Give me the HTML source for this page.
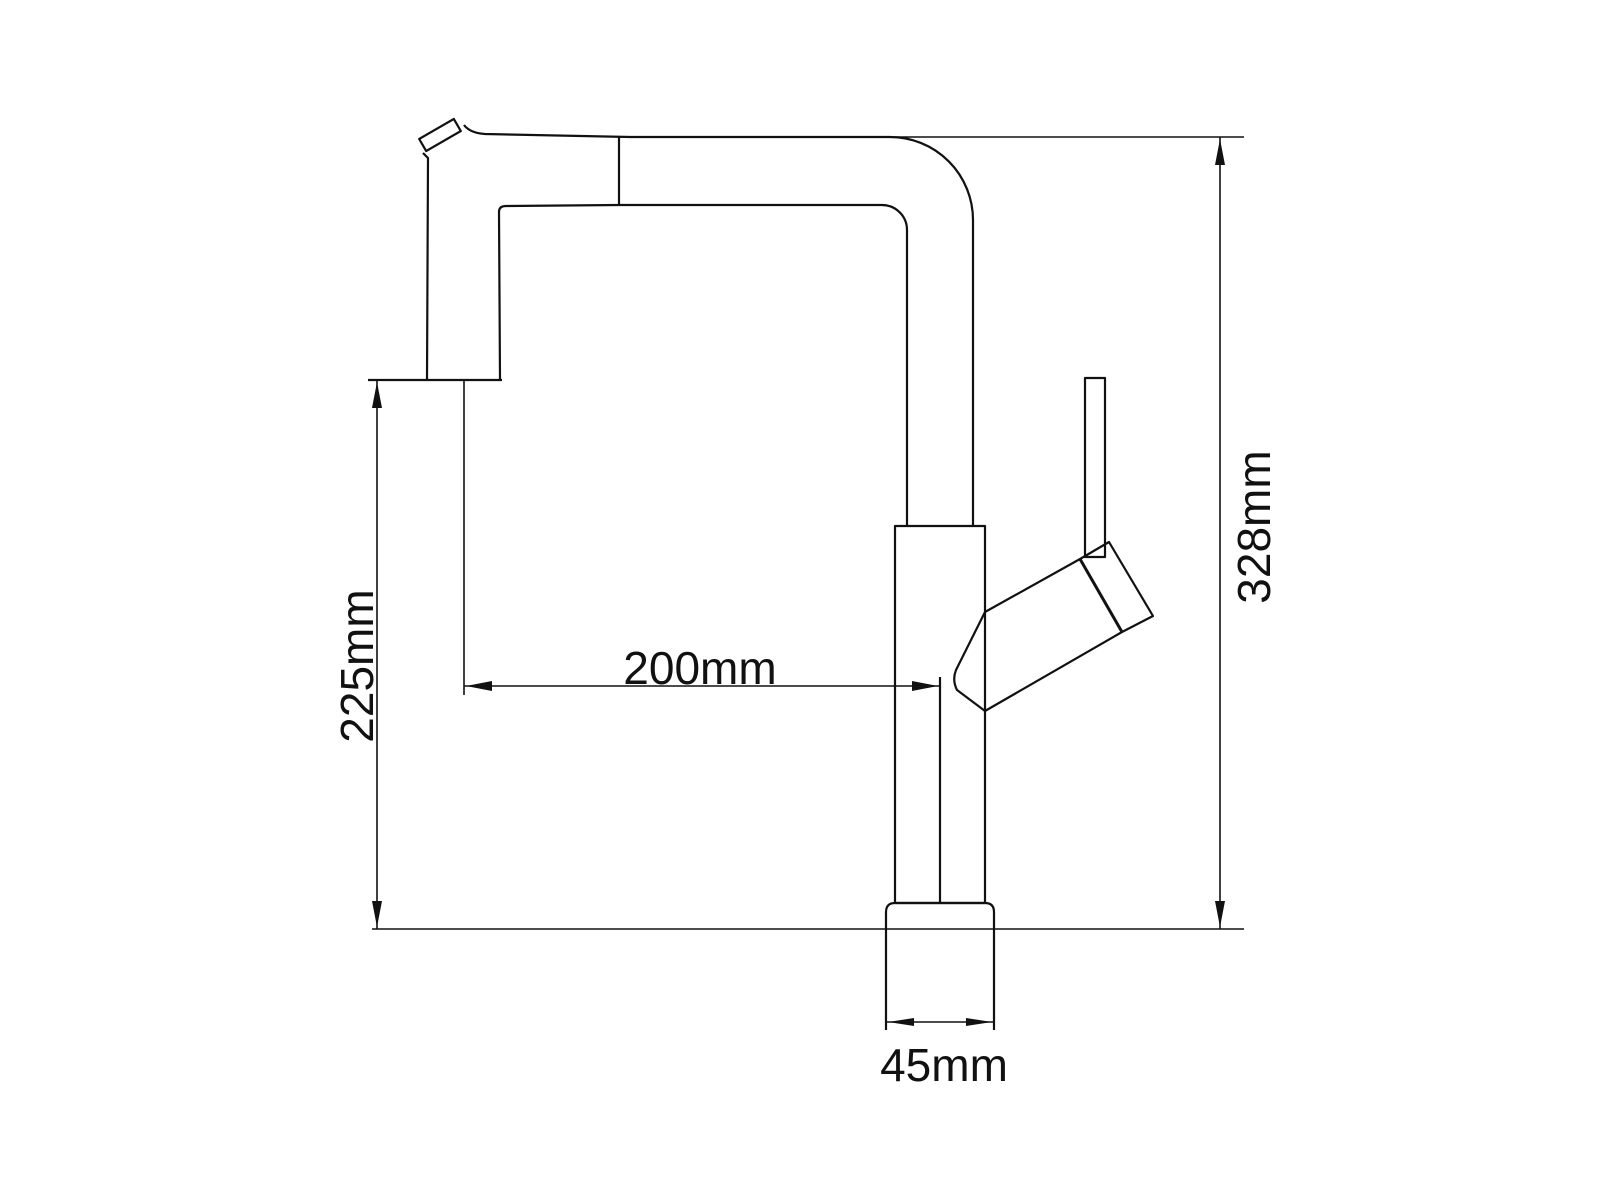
<!DOCTYPE html>
<html><head><meta charset="utf-8"><style>
html,body{margin:0;padding:0;background:#fff;}
svg{display:block;}
text{font-family:"Liberation Sans",sans-serif;font-size:46px;fill:#111;}
</style></head><body>
<svg width="1600" height="1200" viewBox="0 0 1600 1200" xmlns="http://www.w3.org/2000/svg">
<g fill="none" stroke="#111" stroke-width="2.2" stroke-linejoin="round">
<path d="M427 380 L428 158 L423 153"/>
<path d="M464 125 Q470 133 485 134 L630 137 L890 137 A83 83 0 0 1 973 220 L973 526"/>
<g transform="rotate(-30 440 135)"><rect x="420" y="128" width="40" height="14"/></g>
<path d="M500 380 L499 212 Q499 206 506 206 L619 205 L882 205 A25 25 0 0 1 907 230 L907 526"/>
<line x1="619" y1="137" x2="619" y2="205"/>
<line x1="368" y1="380" x2="502" y2="380"/>
<rect x="895" y="526" width="90" height="377"/>
<line x1="940" y1="677" x2="940" y2="903"/>
<path d="M886 1030 L886 912 Q886 903 895 903 L985 903 Q994 903 994 912 L994 1030"/>
<rect x="1085" y="378" width="20" height="179"/>
<path d="M985 612 L1080 559 L1109 542 L1153 616 L1122 632 L985 711 L957 690 Q952 680 956 670 Z"/>
<line x1="1080" y1="559" x2="1122" y2="632" stroke-width="3"/>
<line x1="630" y1="137" x2="1244" y2="137" stroke-width="1.6"/>
<line x1="372" y1="929" x2="1244" y2="929" stroke-width="1.6"/>
<line x1="1220" y1="137" x2="1220" y2="929" stroke-width="1.6"/>
<line x1="377" y1="380" x2="377" y2="929" stroke-width="1.6"/>
<line x1="464" y1="380" x2="464" y2="695" stroke-width="1.6"/>
<line x1="464" y1="686" x2="940" y2="686" stroke-width="1.6"/>
<line x1="886" y1="1022" x2="994" y2="1022" stroke-width="1.6"/>
</g>
<g fill="#111">
<polygon points="1220,139 1215,165 1225,165"/>
<polygon points="1220,927 1215,901 1225,901"/>
<polygon points="377,382 372,408 382,408"/>
<polygon points="377,927 372,901 382,901"/>
<polygon points="466,686 492,681 492,691"/>
<polygon points="938,686 912,681 912,691"/>
<polygon points="888,1022 914,1018 914,1026"/>
<polygon points="992,1022 966,1018 966,1026"/>
</g>
<text x="700" y="684" text-anchor="middle">200mm</text>
<text x="944" y="1081" text-anchor="middle">45mm</text>
<text transform="translate(1270 527) rotate(-90)" text-anchor="middle">328mm</text>
<text transform="translate(373 666) rotate(-90)" text-anchor="middle">225mm</text>
</svg>
</body></html>
